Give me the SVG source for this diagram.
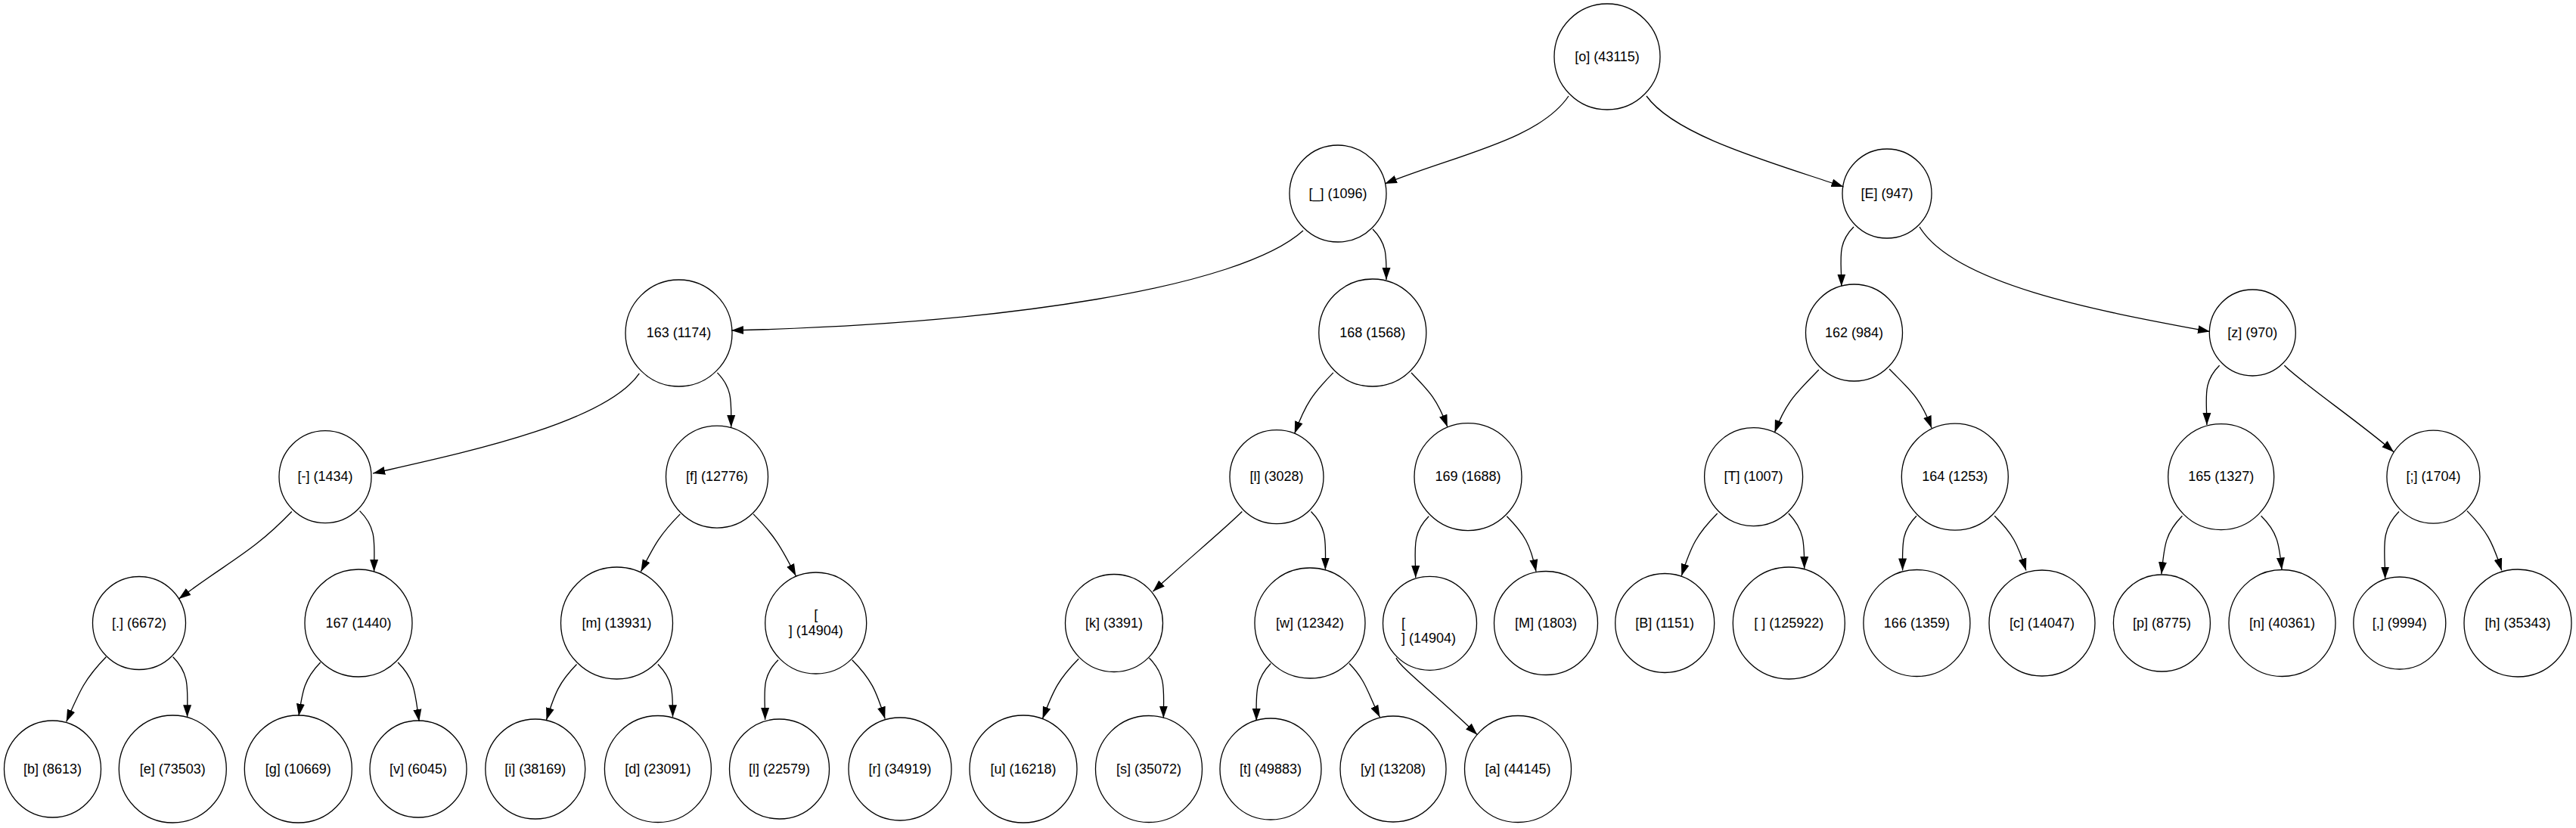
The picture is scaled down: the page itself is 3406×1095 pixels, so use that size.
<svg xmlns="http://www.w3.org/2000/svg" width="3406" height="1095" viewBox="0 0 3406 1095">
<defs>
<style>
.node circle{fill:none;stroke:#000;stroke-width:1.3}
.node text{font-family:"Liberation Sans",Arial,sans-serif;font-size:18px;text-anchor:middle;fill:#000}
.node text.left{text-anchor:start}
.edges path{fill:none;stroke:#000;stroke-width:1.3;marker-end:url(#arr)}
</style>
<marker id="arr" markerUnits="userSpaceOnUse" markerWidth="16" markerHeight="12" viewBox="0 0 16 12" refX="16" refY="6" orient="auto"><path d="M0,0.5 L16,6 L0,11.5 z" fill="#000"/></marker>
</defs>
<rect width="3406" height="1095" fill="#fff"/>
<g class="edges">
<path d="M2074,127 C2035,185 1925,205 1831,243"/>
<path d="M2177,127 C2215,180 2343,215 2437.5,247"/>
<path d="M1723,305 C1640,380 1330,428 967,437"/>
<path d="M1815,303 C1834.5,322.8 1833,338.8 1833,370"/>
<path d="M2451,300 C2428.4,322.6 2434.8,342.4 2434.8,378.5"/>
<path d="M2538,300 C2585,378 2785,413 2922,438.6"/>
<path d="M845.3,493.8 C800,560 609.6,599.6 493.2,626"/>
<path d="M948.4,492.9 C969.2,514.3 966.7,531.5 966.7,565"/>
<path d="M385.8,676.5 C333.4,730.9 304.4,741 236.4,792"/>
<path d="M475.6,675.6 C499.1,698.8 494.6,718.9 494.6,755.9"/>
<path d="M899.3,679.9 C873.4,706.1 866,719.1 847.4,755.9"/>
<path d="M996.1,679.9 C1023.8,708.3 1032.2,721.9 1052.3,761.6"/>
<path d="M140.3,868.8 C112.2,897.6 105.8,912.8 87.7,954.4"/>
<path d="M228.7,868.8 C251.7,891.9 247.6,911.5 247.6,948.2"/>
<path d="M423.7,876 C402.5,897.9 400.1,912.7 395,946.7"/>
<path d="M526.1,876 C549.6,899.5 548.6,917.1 554.2,954"/>
<path d="M762.5,878.5 C739.2,902.5 733.8,916.2 722.5,952"/>
<path d="M869.9,878.5 C890.4,899 889.5,915.6 889.5,948.2"/>
<path d="M1029,872.7 C1005.8,895.5 1011.6,915.5 1011.6,952"/>
<path d="M1126.7,872.7 C1151.8,898.1 1158.2,912.5 1170.2,950.6"/>
<path d="M1762.9,492.9 C1736.2,520.1 1726.7,533 1711.7,573.2"/>
<path d="M1866,492.9 C1889.9,517.6 1900.3,528.1 1913.8,564.5"/>
<path d="M1642.3,676.5 C1621.2,697.7 1560.9,748.3 1524.4,782.3"/>
<path d="M1733.5,676.5 C1755.8,699 1752.4,717.8 1752.4,753.5"/>
<path d="M1889.2,682.8 C1865.8,706.4 1871.7,726.6 1871.7,764"/>
<path d="M1992.3,682.8 C2015.5,706.4 2023.6,719.4 2031,755.9"/>
<path d="M1426.2,871.3 C1400.2,897.6 1393.1,911.5 1378.5,950.6"/>
<path d="M1519.5,870.3 C1542.6,893.3 1538.4,912.9 1538.4,949.6"/>
<path d="M1680.2,877.5 C1658.5,899.9 1661.2,918 1661.2,953"/>
<path d="M1784,877.5 C1806.8,901 1808,915.8 1824.5,948.5"/>
<path d="M1846,870 C1850,882 1900,920 1953.3,971.7"/>
<path d="M2404.8,489 C2376.9,518.3 2362.4,528.9 2346.5,571.7"/>
<path d="M2498.1,488 C2524.9,515.5 2538.9,525.4 2554,566"/>
<path d="M2934.6,483.3 C2911.7,506 2917.9,525.8 2917.9,562"/>
<path d="M3020.4,483.3 C3041.3,504.8 3123.8,561.4 3165,597.7"/>
<path d="M2270.7,679 C2243.9,706.1 2236.1,720.9 2223.3,761.6"/>
<path d="M2364.9,679 C2385.9,700.9 2385.7,717.8 2385.7,752"/>
<path d="M2534,682.3 C2513.1,703.6 2515.6,720.9 2515.6,754.4"/>
<path d="M2637.2,682.3 C2660.9,705.7 2667.7,718.8 2678.9,754.4"/>
<path d="M2885.4,682.3 C2862.3,705.5 2861.6,722.6 2857.9,759.2"/>
<path d="M2989.6,682.3 C3011.4,703.6 3013.6,719.4 3017,753.5"/>
<path d="M3172,676.5 C3146.4,702.4 3153.6,724.6 3153.6,765.5"/>
<path d="M3261.9,675.6 C3287.5,701.5 3295.4,715.4 3307.7,754.4"/>
</g>
<g id="n_root" class="node"><circle cx="2125" cy="75" r="70"/><text x="2125" y="80.5">[o] (43115)</text></g>
<g id="n_underscore" class="node"><circle cx="1769" cy="256" r="64"/><text x="1769" y="261.5">[_] (1096)</text></g>
<g id="n_E" class="node"><circle cx="2495" cy="256" r="59"/><text x="2495" y="261.5">[E] (947)</text></g>
<g id="n_163" class="node"><circle cx="897.5" cy="440.5" r="70.5"/><text x="897.5" y="446">163 (1174)</text></g>
<g id="n_168" class="node"><circle cx="1814.8" cy="440" r="71"/><text x="1814.8" y="445.5">168 (1568)</text></g>
<g id="n_162" class="node"><circle cx="2451.5" cy="440" r="64"/><text x="2451.5" y="445.5">162 (984)</text></g>
<g id="n_z" class="node"><circle cx="2978.3" cy="440" r="57"/><text x="2978.3" y="445.5">[z] (970)</text></g>
<g id="n_minus" class="node"><circle cx="430" cy="630.6" r="61"/><text x="430" y="636.1">[-] (1434)</text></g>
<g id="n_f" class="node"><circle cx="948" cy="630.6" r="67.5"/><text x="948" y="636.1">[f] (12776)</text></g>
<g id="n_l3028" class="node"><circle cx="1688" cy="630.6" r="62"/><text x="1688" y="636.1">[l] (3028)</text></g>
<g id="n_169" class="node"><circle cx="1941" cy="630.6" r="71"/><text x="1941" y="636.1">169 (1688)</text></g>
<g id="n_T" class="node"><circle cx="2318.6" cy="630.6" r="65"/><text x="2318.6" y="636.1">[T] (1007)</text></g>
<g id="n_164" class="node"><circle cx="2584.8" cy="630.6" r="70.5"/><text x="2584.8" y="636.1">164 (1253)</text></g>
<g id="n_165" class="node"><circle cx="2936.7" cy="630.6" r="70"/><text x="2936.7" y="636.1">165 (1327)</text></g>
<g id="n_semicolon" class="node"><circle cx="3217.4" cy="630.6" r="61.5"/><text x="3217.4" y="636.1">[;] (1704)</text></g>
<g id="n_dot" class="node"><circle cx="184" cy="824" r="61.5"/><text x="184" y="829.5">[.] (6672)</text></g>
<g id="n_167" class="node"><circle cx="474" cy="824" r="71"/><text x="474" y="829.5">167 (1440)</text></g>
<g id="n_m" class="node"><circle cx="815.5" cy="824" r="74"/><text x="815.5" y="829.5">[m] (13931)</text></g>
<g id="n_newline1" class="node"><circle cx="1078.7" cy="824" r="67"/><text x="1078.7" y="819">[</text><text x="1078.7" y="839.5">] (14904)</text></g>
<g id="n_k" class="node"><circle cx="1473" cy="824" r="64.5"/><text x="1473" y="829.5">[k] (3391)</text></g>
<g id="n_w" class="node"><circle cx="1732" cy="824" r="73"/><text x="1732" y="829.5">[w] (12342)</text></g>
<g id="n_newline2" class="node"><circle cx="1890.5" cy="824.3" r="62"/><text class="left" x="1853" y="829.8">[</text><text class="left" x="1853" y="850.3">] (14904)</text></g>
<g id="n_M" class="node"><circle cx="2044" cy="824" r="68.5"/><text x="2044" y="829.5">[M] (1803)</text></g>
<g id="n_B" class="node"><circle cx="2201.2" cy="824" r="65.5"/><text x="2201.2" y="829.5">[B] (1151)</text></g>
<g id="n_space" class="node"><circle cx="2365.3" cy="824" r="74"/><text x="2365.3" y="829.5">[ ] (125922)</text></g>
<g id="n_166" class="node"><circle cx="2534.4" cy="824" r="70.5"/><text x="2534.4" y="829.5">166 (1359)</text></g>
<g id="n_c" class="node"><circle cx="2700" cy="824" r="70"/><text x="2700" y="829.5">[c] (14047)</text></g>
<g id="n_p" class="node"><circle cx="2858.4" cy="824" r="64"/><text x="2858.4" y="829.5">[p] (8775)</text></g>
<g id="n_n" class="node"><circle cx="3017.5" cy="824" r="70.5"/><text x="3017.5" y="829.5">[n] (40361)</text></g>
<g id="n_comma" class="node"><circle cx="3172.8" cy="824" r="61"/><text x="3172.8" y="829.5">[,] (9994)</text></g>
<g id="n_h" class="node"><circle cx="3329" cy="824" r="71"/><text x="3329" y="829.5">[h] (35343)</text></g>
<g id="n_b" class="node"><circle cx="69.5" cy="1017" r="64"/><text x="69.5" y="1022.5">[b] (8613)</text></g>
<g id="n_e" class="node"><circle cx="228.3" cy="1017" r="71"/><text x="228.3" y="1022.5">[e] (73503)</text></g>
<g id="n_g" class="node"><circle cx="394.3" cy="1017" r="71"/><text x="394.3" y="1022.5">[g] (10669)</text></g>
<g id="n_v" class="node"><circle cx="553" cy="1017" r="64"/><text x="553" y="1022.5">[v] (6045)</text></g>
<g id="n_i" class="node"><circle cx="707.8" cy="1017" r="66"/><text x="707.8" y="1022.5">[i] (38169)</text></g>
<g id="n_d" class="node"><circle cx="869.9" cy="1017" r="70.5"/><text x="869.9" y="1022.5">[d] (23091)</text></g>
<g id="n_l22579" class="node"><circle cx="1030.5" cy="1017" r="66"/><text x="1030.5" y="1022.5">[l] (22579)</text></g>
<g id="n_r" class="node"><circle cx="1190" cy="1017" r="68"/><text x="1190" y="1022.5">[r] (34919)</text></g>
<g id="n_u" class="node"><circle cx="1353" cy="1017" r="71"/><text x="1353" y="1022.5">[u] (16218)</text></g>
<g id="n_s" class="node"><circle cx="1519" cy="1017" r="70.5"/><text x="1519" y="1022.5">[s] (35072)</text></g>
<g id="n_t" class="node"><circle cx="1680" cy="1017" r="67"/><text x="1680" y="1022.5">[t] (49883)</text></g>
<g id="n_y" class="node"><circle cx="1842" cy="1017" r="70"/><text x="1842" y="1022.5">[y] (13208)</text></g>
<g id="n_a" class="node"><circle cx="2007" cy="1017" r="70.5"/><text x="2007" y="1022.5">[a] (44145)</text></g>
</svg>
